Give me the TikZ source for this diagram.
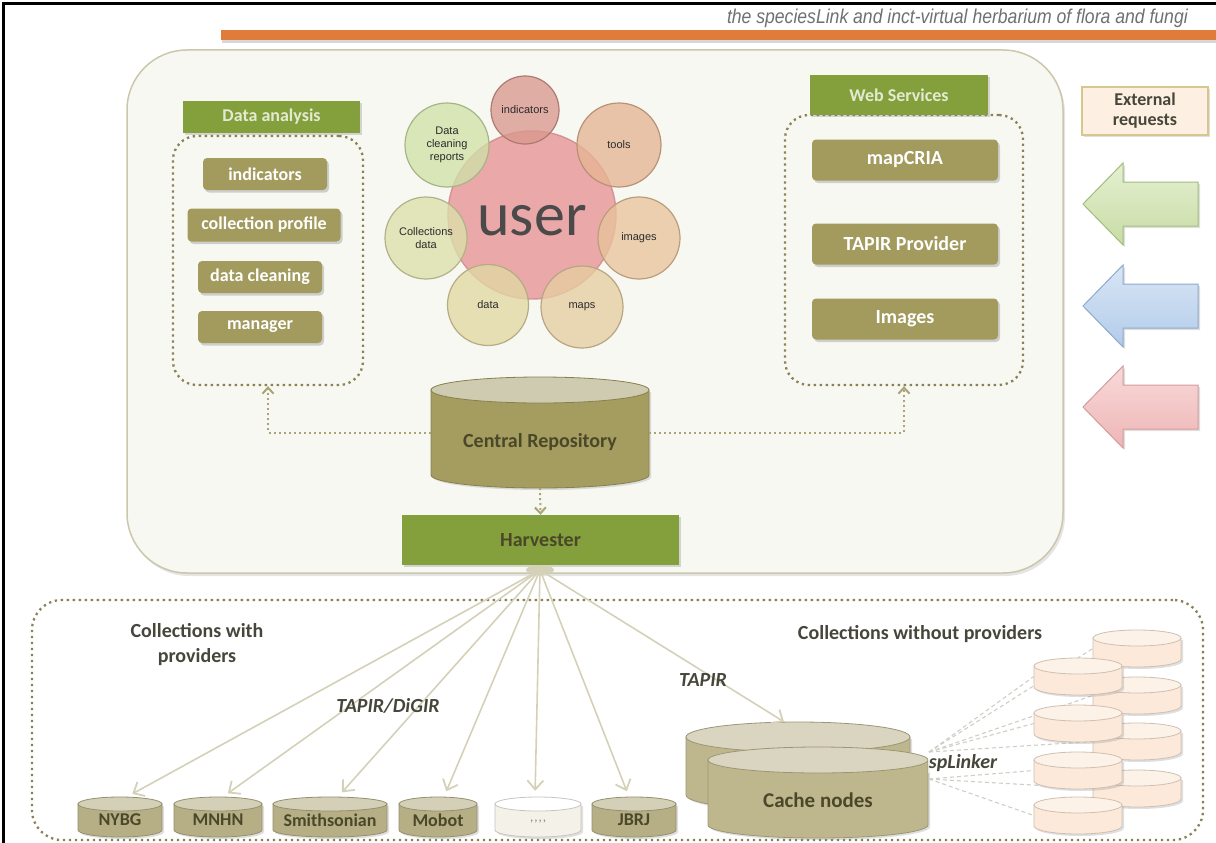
\documentclass[tikz,border=0pt]{standalone}
\usepackage{fontspec}
\setmainfont{Carlito}
\newfontfamily\titlefont[FakeStretch=0.88]{Liberation Sans}
\newfontfamily\circlefont{Liberation Sans}
\usetikzlibrary{arrows.meta,shadows}

% palette
\definecolor{titlegray}{HTML}{707070}
\definecolor{barorange}{HTML}{E07B3A}
\definecolor{bigfill}{HTML}{F8F8F3}
\definecolor{bigdraw}{HTML}{CBC7AC}
\definecolor{hdrgreen}{HTML}{84A03C}
\definecolor{hdrtext}{HTML}{E4EAD2}
\definecolor{oliveclr}{HTML}{A39A5E}
\definecolor{dotclr}{HTML}{8A8156}
\definecolor{dconnclr}{HTML}{ABA376}
\definecolor{userfill}{HTML}{EAA2A2}
\definecolor{userdraw}{HTML}{D49292}
\definecolor{usertext}{HTML}{4A4A4A}
\definecolor{petaltext}{HTML}{2B2B2B}
\definecolor{indfill}{HTML}{D9998E}
\definecolor{toolfill}{HTML}{E6B593}
\definecolor{imgfill}{HTML}{E8C49C}
\definecolor{mapfill}{HTML}{E6CEA2}
\definecolor{datafill}{HTML}{E1D8A3}
\definecolor{collfill}{HTML}{DCE0AA}
\definecolor{cleanfill}{HTML}{D0E1A8}
\definecolor{repobody}{HTML}{A59C5F}
\definecolor{repolid}{HTML}{CFCBB1}
\definecolor{darktext}{HTML}{4B4729}
\definecolor{colbody}{HTML}{B6AF86}
\definecolor{collid}{HTML}{D4D0B8}
\definecolor{blankbody}{HTML}{F3F1E8}
\definecolor{blanklid}{HTML}{FFFFFF}
\definecolor{blanktext}{HTML}{8A8672}
\definecolor{cachebody}{HTML}{BEB78E}
\definecolor{cachelid}{HTML}{D9D5C0}
\definecolor{peachbody}{HTML}{FCE9D9}
\definecolor{peachlid}{HTML}{FDF2E7}
\definecolor{fanclr}{HTML}{D5D1B8}
\definecolor{splinkclr}{HTML}{CFCFC6}
\definecolor{extfill}{HTML}{FDF0E2}
\definecolor{extdraw}{HTML}{D6C78E}
\definecolor{labeltext}{HTML}{47463A}
\definecolor{greentop}{HTML}{E5F0D2}
\definecolor{greenbot}{HTML}{C8DCA4}
\definecolor{greenrim}{HTML}{A4BC7C}
\definecolor{bluetop}{HTML}{D8E6F6}
\definecolor{bluebot}{HTML}{B3CBE9}
\definecolor{bluerim}{HTML}{8FA9CB}
\definecolor{redtop}{HTML}{F9D9D9}
\definecolor{redbot}{HTML}{EEB5B5}
\definecolor{redrim}{HTML}{D39C9C}

\tikzset{
  hdrbox/.style={fill=hdrgreen, inner sep=0pt, text=hdrtext,
    font=\fontsize{18}{20}\selectfont\bfseries,
    drop shadow={opacity=0.3,shadow xshift=2pt,shadow yshift=-2pt}},
  olivebox/.style={fill=oliveclr, rounded corners=4pt, inner sep=0pt, text=white,
    font=\fontsize{18}{20}\selectfont\bfseries,
    drop shadow={opacity=0.35,shadow xshift=2pt,shadow yshift=-2.5pt}},
  dabox/.style={olivebox, minimum height=32pt},
  wsbox/.style={olivebox, font=\fontsize{20}{22}\selectfont\bfseries,
    minimum width=186pt, minimum height=41pt},
  dotframe/.style={draw=dotclr, line width=2.3pt, dash pattern=on 2.3pt off 3.7pt,
    rounded corners=24pt, inner sep=0pt},
  petal/.style={circle, inner sep=0pt, line width=1.2pt, fill opacity=0.78,
    text opacity=1, align=center, text=petaltext,
    font=\circlefont\fontsize{11}{13}\selectfont},
  dconn/.style={draw=dconnclr, line width=2pt, dash pattern=on 2pt off 3pt,
    -{Straight Barb[length=6pt,width=11pt,line width=2pt]}},
  fanarrow/.style={draw=fanclr, line width=1.6pt, shorten >=6pt,
    -{Straight Barb[length=9pt,width=16pt,line width=1.8pt]}},
  splink/.style={draw=splinkclr, line width=1.1pt, dash pattern=on 4pt off 3pt},
  cyllabel/.style={text=darktext, font=\fontsize{18}{20}\selectfont\bfseries},
  sectionlabel/.style={text=labeltext, align=center,
    font=\fontsize{20}{25}\selectfont\bfseries},
  protolabel/.style={text=labeltext, font=\fontsize{20}{22}\selectfont\bfseries\itshape},
}

% database cylinder: #1 name, #2 centre x, #3 y of the lid centre, #4 half width,
% #5 distance between lid and base centres, #6 lid y radius, #7 body colour, #8 lid colour
\newcommand{\dbcyl}[8]{%
  \path[fill=#7, draw=#7!82!black, line width=0.8pt,
        drop shadow={opacity=0.25,shadow xshift=2pt,shadow yshift=-2pt}]
    (#2-#4,#3) -- (#2-#4,#3+#5)
    arc[start angle=180, end angle=360, x radius=#4pt, y radius=#6pt]
    -- (#2+#4,#3) -- cycle;
  \path[fill=#8, draw=#7!82!black, line width=0.8pt]
    (#2,#3) ellipse[x radius=#4pt, y radius=#6pt];
  \node[inner sep=0pt, minimum width=2*#4pt, minimum height=#5pt+2*#6pt]
    (#1) at (#2,#3+#5/2) {};
}

% left-pointing block arrow: #1 centre y, #2 top colour, #3 bottom colour, #4 border
\newcommand{\leftblock}[4]{%
  \path[top color=#2, bottom color=#3, draw=#4, line width=1pt,
        drop shadow={opacity=0.25,shadow xshift=2pt,shadow yshift=-2pt}]
    (1083,#1) -- (1123,#1-41) -- (1123,#1-22) -- (1198,#1-22)
    -- (1198,#1+22) -- (1123,#1+22) -- (1123,#1+41) -- cycle;
}

\begin{document}
\begin{tikzpicture}[x=1pt,y=-1pt]
\useasboundingbox (0,0) rectangle (1216,843);
\fill[white] (0,0) rectangle (1216,843);

% page frame
\draw[line width=2.6pt] (3.5,843) -- (3.5,3.5) -- (1216,3.5);

% title and orange rule
\node[anchor=base east, text=titlegray, inner sep=0pt,
      font=\titlefont\fontsize{20}{22}\selectfont\itshape] (title) at (1188,24)
  {the speciesLink and inct-virtual herbarium of flora and fungi};
\fill[barorange, drop shadow={opacity=0.3,shadow xshift=1pt,shadow yshift=-3pt}]
  (221,30) rectangle (1216,40);

% system container
\path[fill=bigfill, draw=bigdraw, line width=1.5pt, rounded corners=60pt,
      drop shadow={opacity=0.2,shadow xshift=2pt,shadow yshift=-3pt}]
  (127,50) rectangle (1063,573);

% data analysis group
\node[dotframe, minimum width=190pt, minimum height=249pt] (dagroup) at (268,260.5) {};
\node[hdrbox, minimum width=177pt, minimum height=32pt] (dahdr) at (271.5,117) {Data analysis};
\node[dabox, minimum width=124pt] (daind)  at (265,174) {indicators};
\node[dabox, minimum width=153pt, minimum height=33pt] (daprof) at (264,225) {collection profile};
\node[dabox, minimum width=124pt] (daclean) at (260,277) {data cleaning};
\node[dabox, minimum width=124pt] (daman) at (260,327) {manager};

% web services group
\node[dotframe, minimum width=238pt, minimum height=270pt] (wsgroup) at (904,250) {};
\node[hdrbox, minimum width=178pt, minimum height=40pt] (wshdr) at (899,95) {Web Services};
\node[wsbox] (wsmap)   at (905,160) {mapCRIA};
\node[wsbox] (wstapir) at (905,244) {TAPIR Provider};
\node[wsbox] (wsimg)   at (905,319) {Images};

% user and the services around it
\node[circle, inner sep=0pt, minimum size=168pt, fill=userfill, draw=userdraw,
      line width=1.4pt, fill opacity=0.92] (user) at (532,215) {};
\node[petal, fill=indfill,   draw=indfill!80!black,   minimum size=68pt] (pind)   at (525,110) {indicators};
\node[petal, fill=toolfill,  draw=toolfill!80!black,  minimum size=84pt] (ptools) at (619,145) {tools};
\node[petal, fill=imgfill,   draw=imgfill!80!black,   minimum size=82pt] (pimg)   at (639,238) {images};
\node[petal, fill=mapfill,   draw=mapfill!80!black,   minimum size=82pt] (pmaps)  at (582,307) {maps};
\node[petal, fill=datafill,  draw=datafill!80!black,  minimum size=81pt] (pdata)  at (488,305) {data};
\node[petal, fill=collfill,  draw=collfill!80!black,  minimum size=82pt] (pcoll)  at (426,238) {Collections\\data};
\node[petal, fill=cleanfill, draw=cleanfill!80!black, minimum size=84pt] (pclean) at (447,145) {Data\\cleaning\\reports};
\node[text=usertext, font=\fontsize{62}{62}\selectfont, inner sep=0pt] (userlbl)
  at ([yshift=-6pt]user.center) {user};

% central repository and harvester
\dbcyl{repo}{540}{390}{109}{85}{13}{repobody}{repolid}
\node[text=darktext, font=\fontsize{20}{22}\selectfont\bfseries] (repolbl)
  at ([yshift=-10pt]repo.center) {Central Repository};
\node[hdrbox, text=darktext, font=\fontsize{20}{22}\selectfont\bfseries,
      minimum width=277pt, minimum height=50pt] (harv) at (540.5,540) {Harvester};

\draw[dconn] (repo.west) -| (dagroup.south);
\draw[dconn] (repo.east) -| (wsgroup.south);
\draw[dconn] (repo.south) -- (harv.north);

% external requests
\node[draw=extdraw, fill=extfill, line width=1.2pt, minimum width=126pt,
      minimum height=48pt, align=center, text=labeltext,
      font=\fontsize{18}{20}\selectfont\bfseries,
      drop shadow={opacity=0.25,shadow xshift=2pt,shadow yshift=-2pt}]
  (ext) at (1145,111) {External\\requests};
\leftblock{204}{greentop}{greenbot}{greenrim}
\leftblock{306}{bluetop}{bluebot}{bluerim}
\leftblock{407}{redtop}{redbot}{redrim}

% collections
\node[dotframe, minimum width=1171pt, minimum height=240pt, rounded corners=30pt]
  (colgroup) at (617.5,720) {};
\node[sectionlabel] (withprov) at (197,645) {Collections with\\providers};
\node[sectionlabel] (withoutprov) at (920,634) {Collections without providers};

\dbcyl{nybg}{120}{804}{42}{26}{7}{colbody}{collid}
\dbcyl{mnhn}{218}{804}{44}{26}{7}{colbody}{collid}
\dbcyl{smith}{330}{804}{57}{26}{7}{colbody}{collid}
\dbcyl{mobot}{438}{804}{39}{26}{7}{colbody}{collid}
\dbcyl{more}{538}{804}{43}{26}{7}{blankbody}{blanklid}
\dbcyl{jbrj}{634}{804}{42}{26}{7}{colbody}{collid}
\node[cyllabel] at ([yshift=-3pt]nybg.center) {NYBG};
\node[cyllabel] at ([yshift=-3pt]mnhn.center) {MNHN};
\node[cyllabel] at ([yshift=-3pt]smith.center) {Smithsonian};
\node[cyllabel] at ([yshift=-3pt]mobot.center) {Mobot};
\node[cyllabel, text=blanktext, font=\fontsize{13}{15}\selectfont]
  at ([yshift=-5pt]more.center) {,\kern1pt,\kern1pt,\kern1pt,};
\node[cyllabel] at ([yshift=-3pt]jbrj.center) {JBRJ};

% cache nodes
\dbcyl{cacheb}{798}{737}{112}{58}{15}{cachebody}{cachelid}
\dbcyl{cachef}{818}{760}{110}{65}{13}{cachebody}{cachelid}
\node[text=darktext, font=\fontsize{21}{23}\selectfont\bfseries] (cachelbl)
  at ([yshift=-8pt]cachef.center) {Cache nodes};

% harvesting links
\coordinate (fan) at (540,570);
\fill[fanclr] (fan) ellipse[x radius=14pt, y radius=5pt];
\draw[fanarrow] (fan) -- ([xshift=7pt]nybg.north);
\draw[fanarrow] (fan) -- ([xshift=5pt]mnhn.north);
\draw[fanarrow] (fan) -- ([xshift=8pt]smith.north);
\draw[fanarrow] (fan) -- ([xshift=6pt]mobot.north);
\draw[fanarrow] (fan) -- ([xshift=-3pt]more.north);
\draw[fanarrow] (fan) -- ([xshift=-5pt]jbrj.north);
\draw[fanarrow, shorten >=0pt] (fan) -- ([xshift=-14pt]cacheb.north);
\node[protolabel] (tdg) at (388,706) {TAPIR/DiGIR};
\node[protolabel] (tap) at (703,680) {TAPIR};

% local databases reached through spLinker
\dbcyl{pb1}{1137}{638}{44}{21}{8}{peachbody}{peachlid}
\dbcyl{pb2}{1137}{685}{44}{21}{8}{peachbody}{peachlid}
\dbcyl{pb3}{1137}{731}{44}{21}{8}{peachbody}{peachlid}
\dbcyl{pb4}{1137}{778}{44}{21}{8}{peachbody}{peachlid}
\coordinate (spa) at (929,752);
\coordinate (spb) at (929,779);
\draw[splink] (spa) -- (pb1.west);
\draw[splink] (spa) -- (pb2.west);
\draw[splink] (spa) -- (pb3.west);
\draw[splink] (spb) -- (pb4.west);
\dbcyl{pf1}{1078}{666}{44}{21}{8}{peachbody}{peachlid}
\dbcyl{pf2}{1078}{713}{44}{21}{8}{peachbody}{peachlid}
\dbcyl{pf3}{1078}{760}{44}{21}{8}{peachbody}{peachlid}
\dbcyl{pf4}{1078}{805}{44}{21}{8}{peachbody}{peachlid}
\draw[splink] (spa) -- (pf1.west);
\draw[splink] (spa) -- (pf2.west);
\draw[splink] (spb) -- (pf3.west);
\draw[splink] (spb) -- (pf4.west);
\node[protolabel, fill=white, fill opacity=0.6, text opacity=1, inner sep=1pt]
  (spl) at (963,763) {spLinker};

\end{tikzpicture}
\end{document}
